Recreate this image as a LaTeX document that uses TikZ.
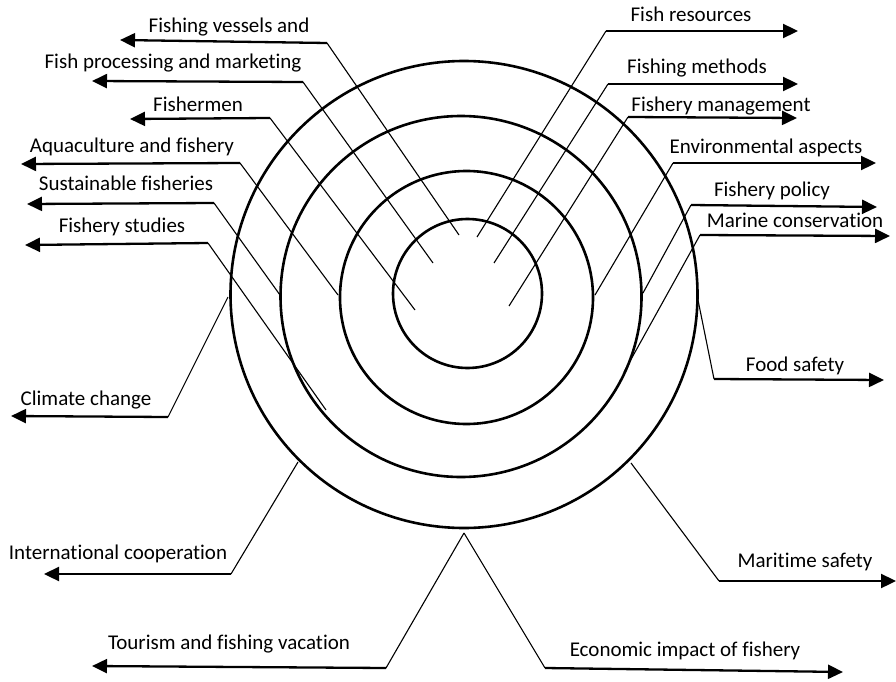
\documentclass[tikz,border=0pt]{standalone}
\usepackage{fontspec}
\setmainfont{Carlito}[Ligatures=NoCommon]
\usetikzlibrary{arrows.meta}

\tikzset{
  ring/.style={line width=2.6pt},
  leader/.style={line width=1.1pt},
  pointer/.style={line width=2.3pt, -{Triangle[length=15pt,width=14pt]}},
  lbl/.style={anchor=base, inner sep=0pt, font=\fontsize{21}{25}\selectfont}
}

\begin{document}
\begin{tikzpicture}[x=1pt,y=-1pt]
\useasboundingbox (0,0) rectangle (896,682);

% the four rings
\draw [ring] (464,294.5) circle (233.5);
\draw [ring] (461,296.5) circle (180.5);
\draw [ring] (466.5,297.5) circle (126.5);
\draw [ring] (467.5,293.5) circle (74.5);

% left side
\coordinate (ves-a) at (459,235); \coordinate (ves-b) at (327,43); \coordinate (ves-c) at (120,40);
\draw [leader] (ves-a) -- (ves-b); \draw [pointer] (ves-b) -- (ves-c);
\node (ves) [lbl] at (229,33) {Fishing vessels and};

\coordinate (proc-a) at (433,263); \coordinate (proc-b) at (303,82); \coordinate (proc-c) at (92,81);
\draw [leader] (proc-a) -- (proc-b); \draw [pointer] (proc-b) -- (proc-c);
\node (proc) [lbl] at (173,69) {Fish processing and marketing};

\coordinate (men-a) at (415,310); \coordinate (men-b) at (270,118); \coordinate (men-c) at (130,119);
\draw [leader] (men-a) -- (men-b); \draw [pointer] (men-b) -- (men-c);
\node (men) [lbl] at (198,111) {Fishermen};

\coordinate (aqua-a) at (338,295); \coordinate (aqua-b) at (240,163); \coordinate (aqua-c) at (21,164);
\draw [leader] (aqua-a) -- (aqua-b); \draw [pointer] (aqua-b) -- (aqua-c);
\node (aqua) [lbl] at (132,152) {Aquaculture and fishery};

\coordinate (sust-a) at (280,295); \coordinate (sust-b) at (214,203); \coordinate (sust-c) at (27,204);
\draw [leader] (sust-a) -- (sust-b); \draw [pointer] (sust-b) -- (sust-c);
\node (sust) [lbl] at (126,190) {Sustainable fisheries};

\coordinate (stud-a) at (326,410); \coordinate (stud-b) at (208,243); \coordinate (stud-c) at (25,245);
\draw [leader] (stud-a) -- (stud-b); \draw [pointer] (stud-b) -- (stud-c);
\node (stud) [lbl] at (122,232) {Fishery studies};

\coordinate (clim-a) at (228,297); \coordinate (clim-b) at (168,417); \coordinate (clim-c) at (11,416);
\draw [leader] (clim-a) -- (clim-b); \draw [pointer] (clim-b) -- (clim-c);
\node (clim) [lbl] at (86,405) {Climate change};

\coordinate (intl-a) at (298,462); \coordinate (intl-b) at (231,574); \coordinate (intl-c) at (44,574);
\draw [leader] (intl-a) -- (intl-b); \draw [pointer] (intl-b) -- (intl-c);
\node (intl) [lbl] at (118,559) {International cooperation};

% bottom, both leaders start from one point
\coordinate (low) at (464,533);
\coordinate (tour-b) at (386,668); \coordinate (tour-c) at (92,666);
\draw [leader] (low) -- (tour-b); \draw [pointer] (tour-b) -- (tour-c);
\node (tour) [lbl] at (229,649) {Tourism and fishing vacation};

\coordinate (econ-b) at (545,668); \coordinate (econ-c) at (843,672);
\draw [leader] (low) -- (econ-b); \draw [pointer] (econ-b) -- (econ-c);
\node (econ) [lbl] at (685,656) {Economic impact of fishery};

% right side
\coordinate (safe-a) at (631,463); \coordinate (safe-b) at (719,581); \coordinate (safe-c) at (896,581);
\draw [leader] (safe-a) -- (safe-b); \draw [pointer] (safe-b) -- (safe-c);
\node (safe) [lbl] at (805,567) {Maritime safety};

\coordinate (food-a) at (698,300); \coordinate (food-b) at (714,379); \coordinate (food-c) at (884,380);
\draw [leader] (food-a) -- (food-b); \draw [pointer] (food-b) -- (food-c);
\node (food) [lbl] at (795,371) {Food safety};

\coordinate (mar-a) at (624,372); \coordinate (mar-b) at (700,235); \coordinate (mar-c) at (890,236);
\draw [leader] (mar-a) -- (mar-b); \draw [pointer] (mar-b) -- (mar-c);
\node (mar) [lbl] at (795,227) {Marine conservation};

\coordinate (pol-a) at (643,293); \coordinate (pol-b) at (691,205); \coordinate (pol-c) at (877,207);
\draw [leader] (pol-a) -- (pol-b); \draw [pointer] (pol-b) -- (pol-c);
\node (pol) [lbl] at (772,196) {Fishery policy};

\coordinate (env-a) at (595,295); \coordinate (env-b) at (673,163); \coordinate (env-c) at (876,163);
\draw [leader] (env-a) -- (env-b); \draw [pointer] (env-b) -- (env-c);
\node (env) [lbl] at (766,153) {Environmental aspects};

\coordinate (mgmt-a) at (509,306); \coordinate (mgmt-b) at (628,117); \coordinate (mgmt-c) at (797,118);
\draw [leader] (mgmt-a) -- (mgmt-b); \draw [pointer] (mgmt-b) -- (mgmt-c);
\node (mgmt) [lbl] at (721,111) {Fishery management};

\coordinate (meth-a) at (494,263); \coordinate (meth-b) at (608,84); \coordinate (meth-c) at (798,84);
\draw [leader] (meth-a) -- (meth-b); \draw [pointer] (meth-b) -- (meth-c);
\node (meth) [lbl] at (697,74) {Fishing methods};

\coordinate (res-a) at (477,237); \coordinate (res-b) at (606,31); \coordinate (res-c) at (798,31);
\draw [leader] (res-a) -- (res-b); \draw [pointer] (res-b) -- (res-c);
\node (res) [lbl] at (691,22) {Fish resources};

\end{tikzpicture}
\end{document}
